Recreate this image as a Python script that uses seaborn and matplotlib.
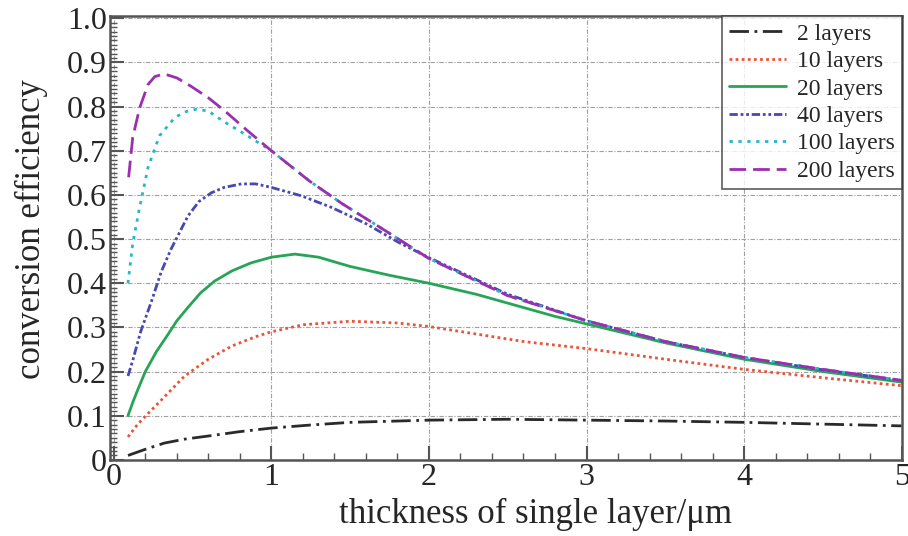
"""
Conversion efficiency vs single layer thickness for stacked layers
"""

import matplotlib
matplotlib.use("Agg")
import matplotlib.pyplot as plt
from matplotlib.ticker import MultipleLocator
import seaborn as sns
import numpy as np
import pandas as pd

# thickness of single layer (um) and efficiency
x_2 = [0.09, 0.2, 0.32, 0.45, 0.64, 0.8, 1.0, 1.25, 1.5, 2.0, 2.5, 3.0, 3.5, 4.0, 4.5, 5.0]
y_2 = [0.010, 0.024, 0.038, 0.047, 0.056, 0.064, 0.072, 0.079, 0.085, 0.090, 0.092, 0.090, 0.088, 0.085, 0.081, 0.077]

x_10 = [0.09, 0.15, 0.22, 0.3, 0.45, 0.6, 0.75, 0.9, 1.0, 1.2, 1.5, 1.8, 2.0, 2.3, 2.6, 3.0, 3.5, 4.0, 4.5, 5.0]
y_10 = [0.052, 0.080, 0.106, 0.135, 0.190, 0.228, 0.258, 0.279, 0.290, 0.306, 0.314, 0.310, 0.302, 0.285, 0.268, 0.252, 0.228, 0.205, 0.186, 0.168]

x_20 = [0.09, 0.12, 0.15, 0.2, 0.27, 0.34, 0.4, 0.47, 0.55, 0.64, 0.75, 0.87, 1.0, 1.15, 1.3, 1.5, 1.75, 2.0, 2.3, 2.55, 2.8, 3.0, 3.5, 4.0, 4.5, 5.0]
y_20 = [0.100, 0.130, 0.157, 0.200, 0.245, 0.282, 0.315, 0.345, 0.378, 0.405, 0.428, 0.446, 0.459, 0.466, 0.459, 0.438, 0.418, 0.400, 0.375, 0.350, 0.325, 0.308, 0.265, 0.228, 0.200, 0.176]

x_40 = [0.09, 0.12, 0.17, 0.24, 0.30, 0.36, 0.41, 0.47, 0.54, 0.62, 0.7, 0.81, 0.9, 1.0, 1.19, 1.38, 1.6, 1.81, 2.0, 2.5, 3.0, 3.5, 4.0, 4.5, 5.0]
y_40 = [0.190, 0.225, 0.290, 0.360, 0.425, 0.475, 0.510, 0.552, 0.585, 0.605, 0.617, 0.625, 0.625, 0.617, 0.598, 0.572, 0.535, 0.492, 0.458, 0.375, 0.315, 0.268, 0.232, 0.204, 0.180]

x_100 = [0.09, 0.12, 0.164, 0.217, 0.29, 0.387, 0.45, 0.524, 0.6, 0.694, 0.83, 1.0, 1.24, 1.45, 1.75, 2.0, 2.5, 3.0, 3.5, 4.0, 4.5, 5.0]
y_100 = [0.400, 0.490, 0.572, 0.662, 0.734, 0.775, 0.788, 0.794, 0.790, 0.767, 0.738, 0.700, 0.632, 0.580, 0.513, 0.456, 0.372, 0.315, 0.268, 0.232, 0.205, 0.180]

x_200 = [0.094, 0.12, 0.164, 0.217, 0.26, 0.32, 0.4, 0.49, 0.6, 0.705, 0.85, 1.0, 1.24, 1.45, 1.75, 2.0, 2.5, 3.0, 3.5, 4.0, 4.5, 5.0]
y_200 = [0.640, 0.730, 0.797, 0.850, 0.868, 0.874, 0.865, 0.846, 0.820, 0.790, 0.745, 0.700, 0.632, 0.580, 0.513, 0.456, 0.372, 0.315, 0.268, 0.232, 0.205, 0.180]

labels = ["2 layers", "10 layers", "20 layers", "40 layers", "100 layers", "200 layers"]
colors = ["#2a2a2a", "#e8553a", "#27a455", "#4848b0", "#26b8c8", "#9a30b0"]
dashes = [(7, 2, 1, 2), (1, 1.2), "", (3, 1, 1, 1, 1, 1), (1.2, 2), (6, 2.5)]

series = [(x_2, y_2), (x_10, y_10), (x_20, y_20), (x_40, y_40), (x_100, y_100), (x_200, y_200)]

frames = []
for (xs, ys), lab in zip(series, labels):
    frames.append(pd.DataFrame({"thickness": xs, "efficiency": ys, "layers": lab}))
df = pd.concat(frames, ignore_index=True)

sns.set_style("white")
plt.rcParams["font.family"] = ["Liberation Serif", "DejaVu Serif"]

fig = plt.figure(figsize=(9.08, 5.36), dpi=100)
ax = fig.add_axes([0.121, 0.142, 0.872, 0.828])

sns.lineplot(data=df, x="thickness", y="efficiency", hue="layers", style="layers",
             hue_order=labels, style_order=labels, palette=colors,
             dashes=dict(zip(labels, dashes)), linewidth=2.0, sort=False,
             estimator=None, ax=ax)

ax.set_xlim(-0.025, 5.0)
ax.set_ylim(0, 1.005)
ax.set_xticks(range(6))
ax.set_xticklabels(["0", "1", "2", "3", "4", "5"])
ax.xaxis.set_minor_locator(MultipleLocator(0.2))
ax.set_yticks(np.arange(0, 1.01, 0.1))
ax.set_yticklabels(["0"] + ["%.1f" % v for v in np.arange(0.1, 1.01, 0.1)])
ax.yaxis.set_minor_locator(MultipleLocator(0.01))

ax.tick_params(which="major", direction="in", length=10, width=1.5, color="#555555",
               labelsize=23, pad=2)
ax.tick_params(which="minor", direction="in", length=5, width=1, color="#555555")
ax.tick_params(axis="y", which="both", left=True)
ax.tick_params(axis="x", which="both", bottom=True)

ax.grid(True, which="major", color="#a0a0a0", linestyle=(0, (4, 1.5, 1, 1.5)), linewidth=0.8)
for sp in ax.spines.values():
    sp.set_color("#555555")
    sp.set_linewidth(1.8)

ax.set_xlabel("thickness of single layer/μm", fontsize=25)
ax.set_ylabel("conversion efficiency", fontsize=25)
ax.xaxis.set_label_coords(0.537, -0.085)
ax.yaxis.set_label_coords(-0.078, 0.52)

leg = ax.legend(loc="upper right", fontsize=17, frameon=True, fancybox=False,
                edgecolor="#333333", handlelength=2.4, labelspacing=0.25,
                borderaxespad=0.0, borderpad=0.3, handletextpad=0.45)
leg.get_frame().set_linewidth(1.2)
leg.set_title(None)

fig.savefig("out.png", dpi=100)
